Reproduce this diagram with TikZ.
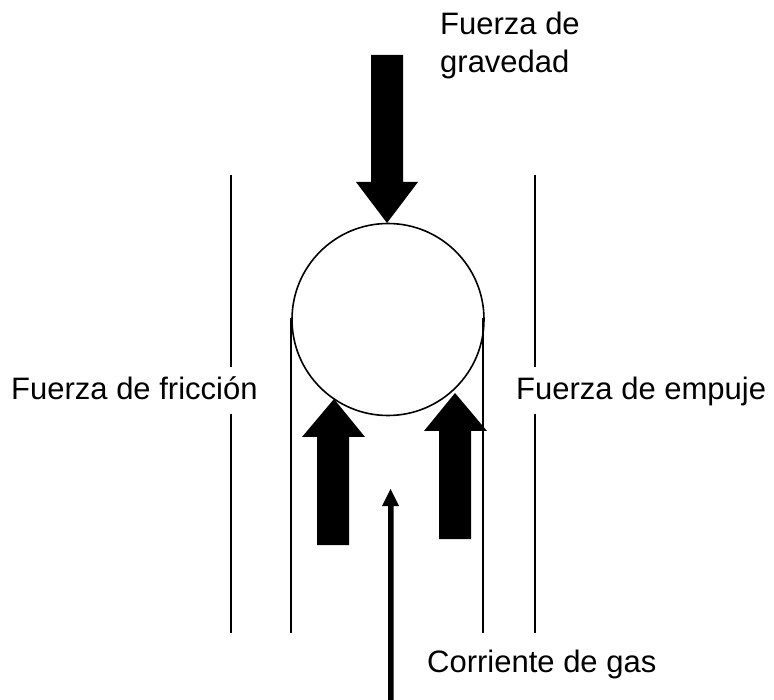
\documentclass[tikz,border=0pt]{standalone}
\usepackage{fontspec}
\setmainfont{Liberation Sans}
\begin{document}
\begin{tikzpicture}[x=1pt,y=-1pt,
  wall/.style={line width=1.6pt},
  force/.style={fill=black,draw=none},
  lbl/.style={inner sep=0pt,font=\fontsize{31}{38}\selectfont}]
\useasboundingbox (0,0) rectangle (774,700);
% walls
\draw[wall] (231,175) coordinate (olt) -- (231,367) coordinate (olm);
\draw[wall] (231,414) coordinate (olb) -- (231,633) coordinate (olbb);
\draw[wall] (535,175) coordinate (ort) -- (535,367) coordinate (orm);
\draw[wall] (535,414) coordinate (orb) -- (535,633) coordinate (orbb);
\draw[wall] (291,318) coordinate (ilt) -- (291,633) coordinate (ilb);
\draw[wall] (483,318) coordinate (irt) -- (483,633) coordinate (irb);
% particle
\node[circle,draw,line width=1.6pt,minimum size=192pt,inner sep=0pt] (ball) at (388,319.5) {};
% gravity arrow
\fill[force] (371,55) -- (403,55) -- (403,182) -- (418,182) -- (387,223) -- (356,182) -- (371,182) -- cycle;
% left up arrow
\fill[force] (317,545) -- (349,545) -- (349,437) -- (365,437) -- (334,399) -- (302,437) -- (317,437) -- cycle;
% right up arrow
\fill[force] (439,539) -- (471,539) -- (471,431) -- (487,431) -- (455,393) -- (424,431) -- (439,431) -- cycle;
% gas stream arrow
\fill[force] (388,700) -- (393.5,700) -- (393.5,506) -- (399,506) -- (390.5,489) -- (382,506) -- (388,506) -- cycle;
% labels
\node[lbl,anchor=base west,align=left] (grav) at (440,73) {Fuerza de\\gravedad};
\node[lbl,anchor=base west] (fric) at (11,400) {Fuerza de fricción};
\node[lbl,anchor=base west] (emp) at (516,400) {Fuerza de empuje};
\node[lbl,anchor=base west] (gas) at (427,672) {Corriente de gas};
\end{tikzpicture}
\end{document}
